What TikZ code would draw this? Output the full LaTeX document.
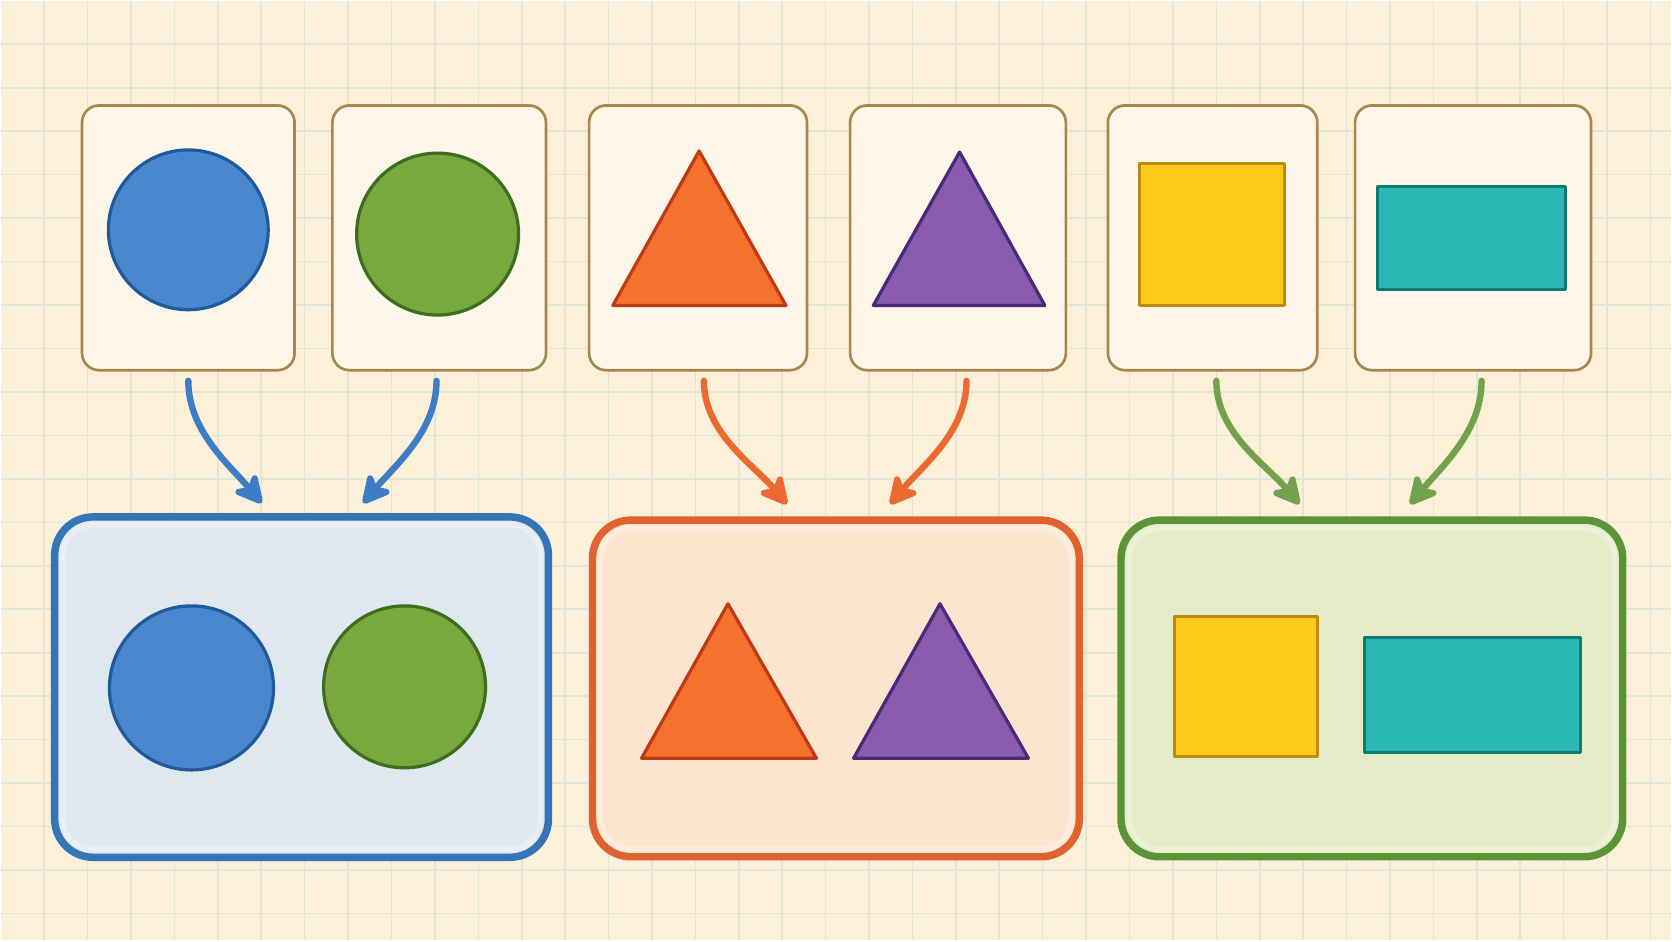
\documentclass[tikz,border=0pt]{standalone}
\usetikzlibrary{arrows.meta}
\definecolor{paper}{HTML}{FCF0D9}
\definecolor{gridc}{HTML}{E2E4D6}
\definecolor{cardfill}{HTML}{FEF7E9}
\definecolor{cardline}{HTML}{A9864F}
\definecolor{bluef}{HTML}{4A87CF}
\definecolor{bluel}{HTML}{1E5A9C}
\definecolor{greenf}{HTML}{78A83E}
\definecolor{greenl}{HTML}{3C6E1E}
\definecolor{orangef}{HTML}{F4722D}
\definecolor{orangel}{HTML}{BE3A14}
\definecolor{purplef}{HTML}{8A5BAF}
\definecolor{purplel}{HTML}{4A2A78}
\definecolor{yellowf}{HTML}{FDCA1C}
\definecolor{yellowl}{HTML}{BD8A0C}
\definecolor{tealf}{HTML}{2BB7B3}
\definecolor{teall}{HTML}{0F7A70}
\definecolor{bluebox}{HTML}{3474B8}
\definecolor{blueboxf}{HTML}{DFE8EE}
\definecolor{orangebox}{HTML}{DE6330}
\definecolor{orangeboxf}{HTML}{FCE4CE}
\definecolor{greenbox}{HTML}{5B9435}
\definecolor{greenboxf}{HTML}{E3EBC7}
\definecolor{bluearr}{HTML}{3C7DC5}
\definecolor{orangearr}{HTML}{EC6A31}
\definecolor{greenarr}{HTML}{72A24B}
\begin{document}
\begin{tikzpicture}[x=0.1mm,y=0.1mm,
    gridline/.style = {draw=gridc,line width=0.15mm},
    card/.style = {rectangle,draw=cardline,fill=cardfill,line width=0.25mm,rounded corners=1.6mm,minimum height=24.85mm,inner sep=0mm,outer sep=0mm},
    tray/.style = {rectangle,line width=0.7mm,rounded corners=3.6mm,inner sep=0mm,outer sep=0mm},
    rim/.style = {draw=white,opacity=0.3,line width=0.5mm,rounded corners=2.9mm},
    piece/.style = {line width=0.3mm,line join=round},
    arr/.style = {line width=0.6mm,line cap=round,looseness=0.9,-{Stealth[length=3.2mm,width=3.3mm,inset=0.9mm,round]}}]
\fill[paper] (0,0) rectangle (1568,882);
\foreach \gx in {1,...,38}
    \draw[gridline] (\gx*40.75,0) -- (\gx*40.75,882);
\foreach \gy in {1,...,21}
    \draw[gridline] (0,882-\gy*40.8) -- (1568,882-\gy*40.8);
\useasboundingbox (0,0) rectangle (1568,882);
\foreach \nm/\cx/\w in {cblue/176/19.95, cgreen/411.5/20.05, corange/654.5/20.45, cpurple/898.5/20.25, cyellow/1137.5/19.65, cteal/1382/22.15}
    \node[card,minimum width=\w mm] (\nm) at (\cx,659.5) {};
\filldraw[piece,fill=bluef,draw=bluel] (176,667) circle [radius=75];
\filldraw[piece,fill=greenf,draw=greenl] (410,663) circle [radius=76];
\filldraw[piece,fill=orangef,draw=orangel] (574.5,596) -- (655.5,741) -- (737,596) -- cycle;
\filldraw[piece,fill=purplef,draw=purplel] (819,596) -- (900,740) -- (980,596) -- cycle;
\filldraw[piece,fill=yellowf,draw=yellowl] (1069,596) rectangle (1205,729);
\filldraw[piece,fill=tealf,draw=teall] (1292,611) rectangle (1469,708);
\node[tray,draw=bluebox,fill=blueboxf,minimum width=46.35mm,minimum height=31.95mm] (tblue) at (282.3,237.75) {};
\node[tray,draw=orangebox,fill=orangeboxf,minimum width=45.7mm,minimum height=31.6mm] (torange) at (783.9,236.5) {};
\node[tray,draw=greenbox,fill=greenboxf,minimum width=47.1mm,minimum height=31.6mm] (tgreen) at (1287,236.5) {};
\foreach \t in {tblue,torange,tgreen}
    \draw[rim] ([shift={(0.75mm,0.75mm)}]\t.south west) rectangle ([shift={(-0.75mm,-0.75mm)}]\t.north east);
\filldraw[piece,fill=bluef,draw=bluel] (179,237) circle [radius=77];
\filldraw[piece,fill=greenf,draw=greenl] (379,238) circle [radius=76];
\filldraw[piece,fill=orangef,draw=orangel] (601.5,171) -- (682.6,316) -- (765.6,171) -- cycle;
\filldraw[piece,fill=purplef,draw=purplel] (800.5,171) -- (881.6,316) -- (964.6,171) -- cycle;
\filldraw[piece,fill=yellowf,draw=yellowl] (1101.7,172.4) rectangle (1236,304.3);
\filldraw[piece,fill=tealf,draw=teall] (1279.8,176) rectangle (1482.7,284.5);
\draw[arr,bluearr] ([yshift=-1mm]cblue.south) to[out=-90,in=130] ([xshift=-3.75mm,yshift=1.3mm]tblue.north);
\draw[arr,bluearr] ([xshift=-0.25mm,yshift=-1mm]cgreen.south) to[out=-90,in=50] ([xshift=5.8mm,yshift=1.3mm]tblue.north);
\draw[arr,orangearr] ([xshift=0.55mm,yshift=-1mm]corange.south) to[out=-90,in=130] ([xshift=-4.6mm,yshift=1.5mm]torange.north);
\draw[arr,orangearr] ([xshift=0.8mm,yshift=-1mm]cpurple.south) to[out=-90,in=50] ([xshift=5.1mm,yshift=1.5mm]torange.north);
\draw[arr,greenarr] ([xshift=0.35mm,yshift=-1mm]cyellow.south) to[out=-90,in=130] ([xshift=-6.8mm,yshift=1.5mm]tgreen.north);
\draw[arr,greenarr] ([xshift=0.8mm,yshift=-1mm]cteal.south) to[out=-90,in=50] ([xshift=3.6mm,yshift=1.5mm]tgreen.north);
\end{tikzpicture}
\end{document}
